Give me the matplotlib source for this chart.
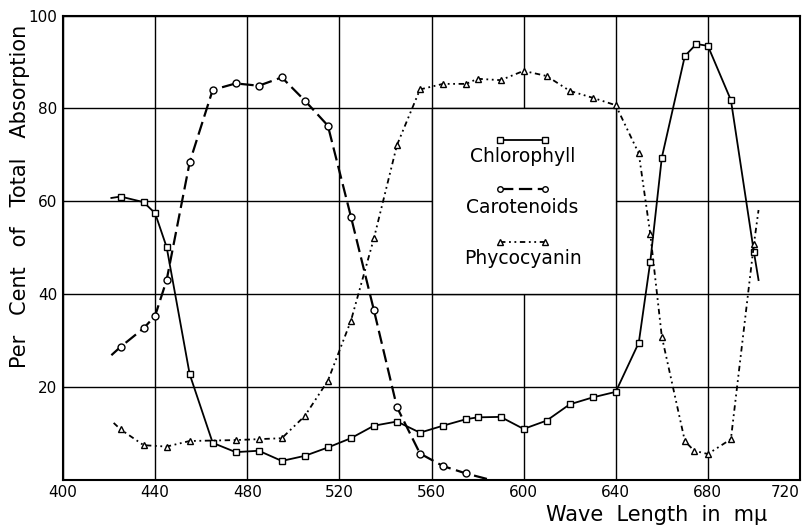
import numpy as np
import matplotlib
matplotlib.use("Agg")
import matplotlib.pyplot as plt
from matplotlib.patches import Rectangle

# wave length (m-mu) and per cent of total absorption
# first/last entries of some series are only line ends (no marker)
chl_x = [421, 425, 435, 440, 445, 455, 465, 475, 485, 495, 505, 515, 525, 535, 545,
         555, 565, 575, 580, 590, 600, 610, 620, 630, 640, 650, 655, 660, 670, 675,
         680, 690, 700, 702]
chl_y = [60.7, 61.0, 59.8, 57.4, 50.1, 22.7, 7.9, 5.9, 6.2, 4.0, 5.1, 6.9, 8.9, 11.6, 12.5,
         10.1, 11.6, 13.0, 13.4, 13.5, 10.9, 12.7, 16.2, 17.7, 18.9, 29.5, 47.0, 69.4, 91.3, 93.9,
         93.5, 81.8, 49.0, 43.0]

car_x = [421, 425, 435, 440, 445, 455, 465, 475, 485, 495, 505, 515, 525, 535, 545,
         555, 565, 575, 585]
car_y = [26.8, 28.6, 32.6, 35.3, 43.0, 68.4, 84.0, 85.4, 84.9, 86.7, 81.7, 76.3, 56.7, 36.5, 15.6,
         5.6, 2.9, 1.3, 0.0]

phy_x = [422, 425, 435, 445, 455, 475, 485, 495, 505, 515, 525, 535, 545, 555, 565,
         575, 580, 590, 600, 610, 620, 630, 640, 650, 655, 660, 670, 674, 680, 690,
         700, 702]
phy_y = [12.2, 10.8, 7.4, 7.1, 8.3, 8.5, 8.7, 8.9, 13.7, 21.3, 34.2, 52.0, 72.1, 84.1, 85.3,
         85.3, 86.4, 86.1, 88.1, 87.0, 83.8, 82.3, 80.7, 70.3, 52.9, 30.8, 8.3, 6.2, 5.5, 8.7,
         50.8, 58.1]

x_ticks = [400, 440, 480, 520, 560, 600, 640, 680, 720]
y_ticks = [20, 40, 60, 80, 100]
legend_names = ["Chlorophyll", "Carotenoids", "Phycocyanin"]

plt.rcParams['font.family'] = ['DejaVu Sans']

fig = plt.figure(figsize=(8.06, 5.25), dpi=100)
ax = fig.add_axes([63/806, 1 - 479.5/525, 737/806, 463.8/525])

ax.set_xlim(400, 720)
ax.set_ylim(0, 100)
ax.set_xticks(x_ticks)
ax.set_yticks(y_ticks)
ax.tick_params(length=0, labelsize=11, pad=4)
ax.grid(True, color='black', lw=1.0)
ax.set_axisbelow(True)
for s in ax.spines.values():
    s.set_linewidth(1.5)
last = ax.get_xticklabels()[-1]
last.set_ha('right')

# legend box sits on the grid cell 560-640 / 40-80, covering the inner grid lines
ax.add_patch(Rectangle((560, 40), 80, 40, facecolor='white', edgecolor='black',
                       lw=1.0, zorder=1))

mk = dict(markersize=5, markerfacecolor='white', markeredgecolor='black',
          markeredgewidth=1.0, color='black', zorder=3)

ax.plot(chl_x, chl_y, ls='-', lw=1.3, marker='s',
        markevery=list(range(1, len(chl_x) - 1)), **mk)
ax.plot(car_x, car_y, ls=(0, (6, 2.5)), lw=1.6, marker='o',
        markevery=list(range(1, len(car_x) - 1)), **mk)
ax.plot(phy_x, phy_y, ls=(0, (3, 2, 1, 2, 1, 2)), lw=1.3, marker='^',
        markevery=list(range(1, len(phy_x) - 1)), **mk)

# hand-made legend: sample line above each name
styles = [('-', 's', 1.3), ((0, (6, 2.5)), 'o', 1.6), ((0, (3, 2, 1, 2, 1, 2)), '^', 1.3)]
sample_y = [0.732, 0.626, 0.513]
text_y = [0.696, 0.587, 0.477]
for name, (ls, m, lw), sy, ty in zip(legend_names, styles, sample_y, text_y):
    ax.plot([0.593, 0.654], [sy, sy], transform=ax.transAxes, ls=ls, lw=lw, color='black',
            marker=m, markersize=4, markerfacecolor='white', markeredgecolor='black',
            markeredgewidth=1.0, zorder=4)
    ax.text(0.6235, ty, name, transform=ax.transAxes, ha='center', va='center',
            fontsize=13.5, zorder=4)

fig.text(20/806, 1 - 196/525, "Per   Cent   of   Total   Absorption", rotation=90,
         ha='center', va='center', fontsize=15)
fig.text(767/806, 1 - 515/525, "Wave  Length  in  mμ", ha='right', va='center',
         fontsize=15)

fig.savefig("out.png", dpi=100)
